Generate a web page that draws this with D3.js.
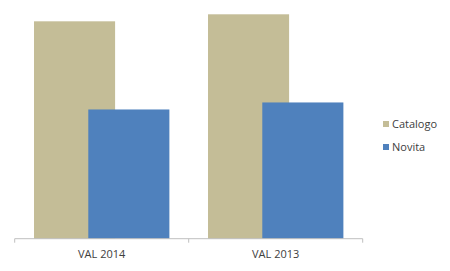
<!DOCTYPE html>
<html>
<head>
<meta charset="utf-8">
<script src="https://cdn.jsdelivr.net/npm/d3@7"></script>
<style>
  body { margin: 0; background: #fff; }
  text { font-family: "Open Sans", sans-serif; fill: #404040; }
</style>
</head>
<body>
<div id="chart"></div>
<script>
var categories = ["VAL 2014", "VAL 2013"];
var seriesNames = ["Catalogo", "Novita"];
var catalogo = [217, 224];
var novita = [129, 136];
var colors = ["#C4BD97", "#4F81BD"];

var width = 450, height = 271;
var baseY = 238.7, topY = 14.3;

var svg = d3.select('#chart').append('svg')
            .attr('width', width)
            .attr('height', height);

var x = d3.scaleBand().domain(categories).range([14.7, 362.7]);
var y = d3.scaleLinear().domain([0, 224]).range([baseY, topY]);

var bw = x.bandwidth();
var barW = bw * 0.466;
var step = bw * 0.312;

var series = [catalogo, novita];

series.forEach(function(vals, i) {
  svg.append('g').selectAll('rect')
     .data(vals)
     .enter().append('rect')
     .attr('x', function(d, j){ return x(categories[j]) + bw/2 + (i - 0.5)*step - barW/2; })
     .attr('y', function(d){ return y(d); })
     .attr('width', barW)
     .attr('height', function(d){ return baseY - y(d); })
     .attr('fill', colors[i]);
});

// x axis
var xAxis = d3.axisBottom(x).tickSize(0).tickPadding(12);
var axisX = svg.append('g')
   .attr('transform', 'translate(0,' + baseY + ')')
   .call(xAxis);
axisX.select('.domain').remove();
axisX.selectAll('text').style('font-size', '11px').attr('fill', '#404040');

var edges = [x.range()[0]].concat(categories.map(function(c){ return x(c) + bw; }));
svg.append('line')
   .attr('x1', x.range()[0]).attr('x2', x.range()[1])
   .attr('y1', baseY).attr('y2', baseY)
   .attr('stroke', '#BFBFBF').attr('stroke-width', 1);
svg.selectAll('.tk').data(edges).enter().append('line')
   .attr('x1', function(d){ return d; }).attr('x2', function(d){ return d; })
   .attr('y1', baseY).attr('y2', baseY + 4)
   .attr('stroke', '#BFBFBF').attr('stroke-width', 1);

// legend
var legend = svg.append('g').attr('transform', 'translate(383,121)');
seriesNames.forEach(function(name, i) {
  var g = legend.append('g').attr('transform', 'translate(0,' + (i*23) + ')');
  g.append('rect').attr('width', 6).attr('height', 6).attr('fill', colors[i]);
  g.append('text').attr('x', 9).attr('y', 6.5)
   .style('font-size', '11px').text(name);
});
</script>
</body>
</html>
